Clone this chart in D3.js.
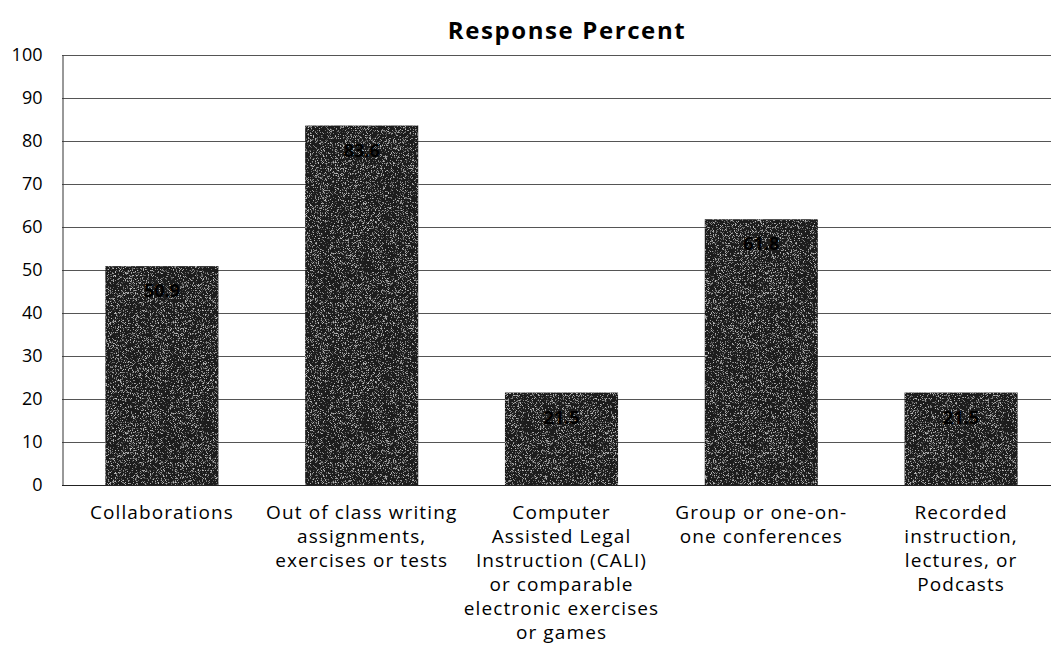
<!DOCTYPE html>
<html><head><meta charset="utf-8">
<script src="https://cdn.jsdelivr.net/npm/d3@7"></script>
<style>body{margin:0;background:#fff}svg{display:block}text{font-family:"Open Sans",Lato,sans-serif}</style>
</head><body>
<svg id="c" width="1051" height="668"></svg>
<script>
const categories = [
  ["Collaborations"],
  ["Out of class writing","assignments,","exercises or tests"],
  ["Computer","Assisted Legal","Instruction (CALI)","or comparable","electronic exercises","or games"],
  ["Group or one-on-","one conferences"],
  ["Recorded","instruction,","lectures, or","Podcasts"]
];
const values = [50.9, 83.6, 21.5, 61.8, 21.5];
const yTicks = [0,10,20,30,40,50,60,70,80,90,100];
const title = "Response Percent";

const svg = d3.select("#c");
const defs = svg.append("defs");
const f = defs.append("filter").attr("id","noise").attr("x",0).attr("y",0).attr("width",1).attr("height",1);
f.append("feTurbulence").attr("type","fractalNoise").attr("baseFrequency",1.6).attr("numOctaves",1).attr("seed",4).attr("result","t");
f.append("feColorMatrix").attr("in","t").attr("type","matrix")
 .attr("values","0 0 0 0 0.5  0 0 0 0 0.5  0 0 0 0 0.5  6 0 0 0 -3.3").attr("result","sp");
f.append("feComposite").attr("in","sp").attr("in2","SourceGraphic").attr("operator","in").attr("result","s2");
const m = f.append("feMerge"); m.append("feMergeNode").attr("in","SourceGraphic"); m.append("feMergeNode").attr("in","s2");

const x0 = 62, x1 = 1061, yTop = 55, yBot = 485;
const ids = categories.map((c,i)=>i);
const x = d3.scaleBand().domain(ids).range([x0,x1]).paddingInner(0.434).paddingOuter(0.217);
const y = d3.scaleLinear().domain([0,100]).range([yBot,yTop]);

// gridlines
svg.append("g").selectAll("line").data(yTicks.filter(d=>d>0)).join("line")
  .attr("x1",x0).attr("x2",1051).attr("y1",d=>y(d)+0.5).attr("y2",d=>y(d)+0.5)
  .attr("stroke","#555").attr("stroke-width",1);

// bars
svg.append("g").selectAll("rect").data(values).join("rect")
  .attr("x",(d,i)=>x(i)).attr("width",x.bandwidth())
  .attr("y",d=>y(d)).attr("height",d=>yBot-y(d))
  .attr("fill","#1e1e1e").attr("filter","url(#noise)");

// value labels
svg.append("g").selectAll("text").data(values).join("text")
  .attr("x",(d,i)=>x(i)+x.bandwidth()/2).attr("y",d=>y(d)+31)
  .attr("text-anchor","middle").attr("font-size",18).attr("font-weight","bold")
  .attr("fill","#000").text(d=>d.toFixed(1));

// y axis
const ya = svg.append("g").attr("transform",`translate(${x0+0.5},0)`)
  .call(d3.axisLeft(y).tickValues(yTicks).tickSize(0).tickPadding(20));
ya.select(".domain").attr("stroke","#333");
ya.selectAll("text").attr("font-size",18).attr("fill","#000").attr("font-family","'Open Sans', sans-serif");

// x baseline
svg.append("line").attr("x1",x0).attr("x2",1051).attr("y1",yBot+0.5).attr("y2",yBot+0.5).attr("stroke","#222");

// x labels
const xl = svg.append("g").selectAll("text").data(categories).join("text")
  .attr("text-anchor","middle").attr("font-size",19).attr("letter-spacing",1.1).attr("fill","#000")
  .attr("transform",(d,i)=>`translate(${x(i)+x.bandwidth()/2},519)`);
xl.selectAll("tspan").data(d=>d).join("tspan")
  .attr("x",0).attr("dy",(d,i)=>i===0?0:24).text(d=>d);

// title
svg.append("text").attr("x",567).attr("y",39).attr("text-anchor","middle")
  .attr("font-size",24).attr("font-weight","bold").attr("letter-spacing",1.6).attr("fill","#000").text(title);
</script>
</body></html>
